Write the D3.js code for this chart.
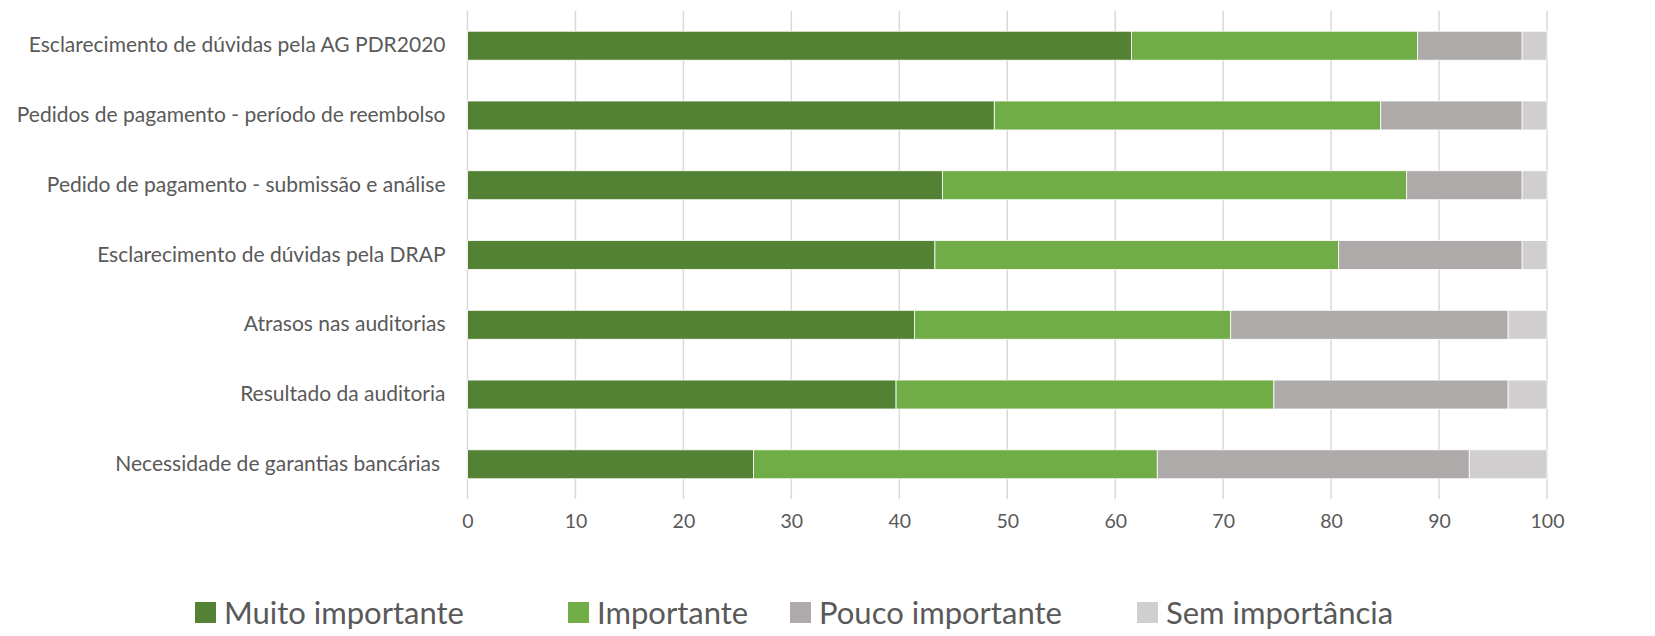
<!DOCTYPE html>
<html>
<head>
<meta charset="utf-8">
<script src="https://cdn.jsdelivr.net/npm/d3@7"></script>
<style>
  body { margin: 0; background: #fff; }
  text { font-family: Lato, "Open Sans", sans-serif; fill: #595959; }
</style>
</head>
<body>
<div id="chart"></div>
<script>
const categories = [
  'Esclarecimento de dúvidas pela AG PDR2020',
  'Pedidos de pagamento - período de reembolso',
  'Pedido de pagamento - submissão e análise',
  'Esclarecimento de dúvidas pela DRAP',
  'Atrasos nas auditorias',
  'Resultado da auditoria',
  'Necessidade de garantias bancárias '
]
const seriesNames = ['Muito importante', 'Importante', 'Pouco importante', 'Sem importância']
const muito = [61.5, 48.8, 44.0, 43.3, 41.4, 39.7, 26.5]
const importante = [26.5, 35.8, 43.0, 37.4, 29.3, 35.0, 37.4]
const pouco = [9.7, 13.1, 10.7, 17.0, 25.7, 21.7, 28.9]
const sem = [2.3, 2.3, 2.3, 2.3, 3.6, 3.6, 7.2]
const xTicks = [0, 10, 20, 30, 40, 50, 60, 70, 80, 90, 100]
const colors = ['#548235', '#70AD47', '#AEAAAA', '#D0CECE']

const width = 1655, height = 636
const margin = {top: 11, right: 108, bottom: 137, left: 467.5}

const rows = categories.map((c, i) => ({
  cat: c,
  'Muito importante': muito[i],
  'Importante': importante[i],
  'Pouco importante': pouco[i],
  'Sem importância': sem[i]
}))

const stacked = d3.stack().keys(seriesNames)(rows)

const svg = d3.select('#chart')
  .append('svg')
  .attr('width', width)
  .attr('height', height)

const x = d3.scaleLinear()
  .domain([0, 100])
  .range([margin.left, width - margin.right])

const y = d3.scaleBand()
  .domain(categories)
  .range([margin.top, height - margin.bottom])
  .paddingInner(0.585)
  .paddingOuter(0.29)

// gridlines
svg.append('g')
  .selectAll('line')
  .data(xTicks)
  .enter()
  .append('line')
  .attr('x1', d => x(d))
  .attr('x2', d => x(d))
  .attr('y1', margin.top)
  .attr('y2', height - margin.bottom)
  .attr('stroke', '#d9d9d9')
  .attr('stroke-width', 1.5)

// bars
svg.append('g')
  .selectAll('g')
  .data(stacked)
  .enter()
  .append('g')
  .attr('fill', (d, i) => colors[i])
  .selectAll('rect')
  .data(d => d)
  .enter()
  .append('rect')
  .attr('x', d => x(d[0]))
  .attr('width', d => x(d[1]) - x(d[0]))
  .attr('y', d => y(d.data.cat))
  .attr('height', y.bandwidth())
  .attr('stroke', '#fff')
  .attr('stroke-width', 0.8)

// x axis labels
const xAxis = svg.append('g')
  .attr('transform', `translate(0,${height - margin.bottom})`)
  .call(d3.axisBottom(x).tickValues(xTicks).tickSize(0).tickPadding(15))
xAxis.select('.domain').remove()
xAxis.selectAll('text')
  .style('font-size', '19.5px')
  .attr('fill', '#595959')

// y axis labels
const yAxis = svg.append('g')
  .attr('transform', `translate(${margin.left},0)`)
  .call(d3.axisLeft(y).tickSize(0).tickPadding(22))
yAxis.select('.domain').remove()
yAxis.selectAll('text')
  .style('font-size', '21px')
  .attr('fill', '#595959')
  .style('white-space', 'pre')

// legend
const legendX = [195, 568, 790, 1137]
const legend = svg.append('g')
  .attr('transform', 'translate(0,613)')

seriesNames.forEach((s, i) => {
  const g = legend.append('g').attr('transform', `translate(${legendX[i]},0)`)
  g.append('rect')
    .attr('x', 0)
    .attr('y', -11)
    .attr('width', 21)
    .attr('height', 21)
    .attr('fill', colors[i])
  g.append('text')
    .attr('x', 29)
    .attr('y', 0)
    .attr('dy', '0.35em')
    .style('font-size', '31px')
    .text(s)
})
</script>
</body>
</html>
